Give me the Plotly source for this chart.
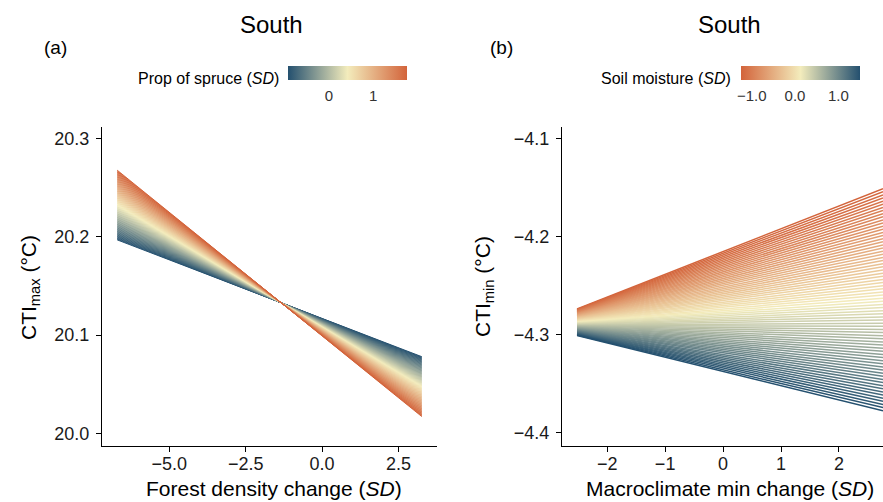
import numpy as np
import plotly.graph_objects as go
from plotly.colors import sample_colorscale

# ---------------- data ----------------
# Panel (a): CTImax vs forest density change, one line per proportion-of-spruce value
spruce_range = [-0.93, 1.77]          # moderator (SD), colour scale limits
forest_x = [-6.70, 3.26]              # x extent of every line
left_low_y = [20.197, 20.078]         # line for lowest spruce value (y at x start / end)
left_high_y = [20.268, 20.017]        # line for highest spruce value
n_left = 100                          # number of moderator levels drawn
spruce_ticks = [0, 1]
spruce_ticktext = ["0", "1"]

# Panel (b): CTImin vs macroclimate min change, one line per soil-moisture value
moist_range = [-1.26, 1.49]
macro_x = [-2.52, 2.76]
right_low_y = [-4.274, -4.151]        # line for lowest soil moisture
right_high_y = [-4.301, -4.378]       # line for highest soil moisture
n_right = 72
moist_ticks = [-1.0, -0.5, 0.0, 0.5, 1.0]
moist_ticktext = ["\u22121.0", "", "0.0", "", "1.0"]

left_yticks = [20.0, 20.1, 20.2, 20.3]
left_xticks = [-5.0, -2.5, 0.0, 2.5]
right_yticks = [-4.4, -4.3, -4.2, -4.1]
right_xticks = [-2, -1, 0, 1, 2]

# ---------------- styling ----------------
W, H = 883, 502
FONT = "Liberation Sans, Arial, sans-serif"
BLUE, CREAM, ORANGE = "#24506f", "#f3ecbc", "#d3643b"
scale_a = [[0, BLUE], [0.5, CREAM], [1, ORANGE]]     # low spruce = blue
scale_b = [[0, ORANGE], [0.5, CREAM], [1, BLUE]]     # low moisture = orange


def px(x):
    return x / W


def py(y):
    return 1 - y / H


fig = go.Figure()


def add_family(mod_range, n, xs, low_y, high_y, scale, xa, ya, width):
    mods = np.linspace(mod_range[0], mod_range[1], n)
    fr = (mods - mod_range[0]) / (mod_range[1] - mod_range[0])
    cols = sample_colorscale(scale, list(fr))
    for f, c in zip(fr, cols):
        # prediction of a model linear in the moderator: blend of the two extreme lines
        ys = [low_y[i] + f * (high_y[i] - low_y[i]) for i in range(2)]
        fig.add_trace(go.Scatter(x=xs, y=ys, mode="lines", xaxis=xa, yaxis=ya,
                                 line=dict(color=c, width=width),
                                 showlegend=False, hoverinfo="skip"))


add_family(spruce_range, n_left, forest_x, left_low_y, left_high_y, scale_a, "x", "y", 1.0)
add_family(moist_range, n_right, macro_x, right_low_y, right_high_y, scale_b, "x2", "y2", 1.5)


def colorbar_trace(mod_range, scale, xa, ya, xs, ys, cx, ticks, ticktext):
    fig.add_trace(go.Scatter(
        x=xs, y=ys, mode="markers", xaxis=xa, yaxis=ya, showlegend=False,
        hoverinfo="skip",
        marker=dict(size=1, opacity=0, color=mod_range, colorscale=scale,
                    cmin=mod_range[0], cmax=mod_range[1], showscale=True,
                    colorbar=dict(orientation="h", x=cx, xanchor="center",
                                  y=py(66), yanchor="top", len=119,
                                  lenmode="pixels", thickness=14,
                                  thicknessmode="pixels", outlinewidth=0,
                                  xpad=0, ypad=0,
                                  tickvals=ticks, ticktext=ticktext,
                                  ticks="outside", ticklen=3,
                                  tickcolor="rgba(0,0,0,0)",
                                  tickfont=dict(family=FONT, size=15, color="#333333")))))


colorbar_trace(spruce_range, scale_a, "x", "y", forest_x, left_low_y, px(347.5),
               spruce_ticks, spruce_ticktext)
colorbar_trace(moist_range, scale_b, "x2", "y2", macro_x, right_low_y, px(800),
               moist_ticks, moist_ticktext)

axis_common = dict(showline=True, linecolor="black", linewidth=1.1, ticks="outside",
                   ticklen=5, tickwidth=1.1, tickcolor="black", showgrid=False,
                   zeroline=False, automargin=False,
                   tickfont=dict(family=FONT, size=18, color="#1a1a1a"))
xstyle = dict(axis_common, ticklabelstandoff=-4)
ystyle = dict(axis_common, ticklabelstandoff=3)

fig.update_layout(
    width=W, height=H, margin=dict(l=0, r=0, t=0, b=0, pad=0),
    paper_bgcolor="white", plot_bgcolor="white",
    font=dict(family=FONT, color="black"),
    xaxis=dict(domain=[px(102), px(437)], range=[-7.198, 3.758], anchor="y",
               tickvals=left_xticks, tickformat=".1f", **xstyle),
    yaxis=dict(domain=[py(446), py(127)], range=[19.987, 20.312], anchor="x",
               tickvals=left_yticks, tickformat=".1f", **ystyle),
    xaxis2=dict(domain=[px(562), 1.0], range=[-2.78, 2.76], anchor="y2",
                tickvals=right_xticks, tickformat="d", **xstyle),
    yaxis2=dict(domain=[py(446), py(127)], range=[-4.414, -4.088], anchor="x2",
                tickvals=right_yticks, tickformat=".1f", **ystyle),
)


def ann(text, x, y, size, xanchor="center", angle=0, color="black"):
    fig.add_annotation(text=text, x=px(x), y=py(y), xref="paper", yref="paper",
                       showarrow=False, xanchor=xanchor, yanchor="middle",
                       textangle=angle, font=dict(family=FONT, size=size, color=color))


ann("South", 271, 25, 24)
ann("South", 729, 25, 24)
ann("(a)", 55, 47, 19)
ann("(b)", 501, 47, 19)
ann("Prop of spruce (<i>SD</i>)", 281, 79, 16, xanchor="right")
ann("Soil moisture (<i>SD</i>)", 733, 79, 16, xanchor="right")
ann("Forest density change (<i>SD</i>)", 274, 488, 21)
ann("Macroclimate min change (<i>SD</i>)", 730, 488, 21)
ann("CTI<sub>max</sub> (°C)", 30, 287, 21, angle=-90)
ann("CTI<sub>min</sub> (°C)", 484, 287, 21, angle=-90)

fig.write_html("out.html", config={"displayModeBar": False},
               post_script="document.body.style.margin='0px';"
                           "document.body.style.padding='0px';")
